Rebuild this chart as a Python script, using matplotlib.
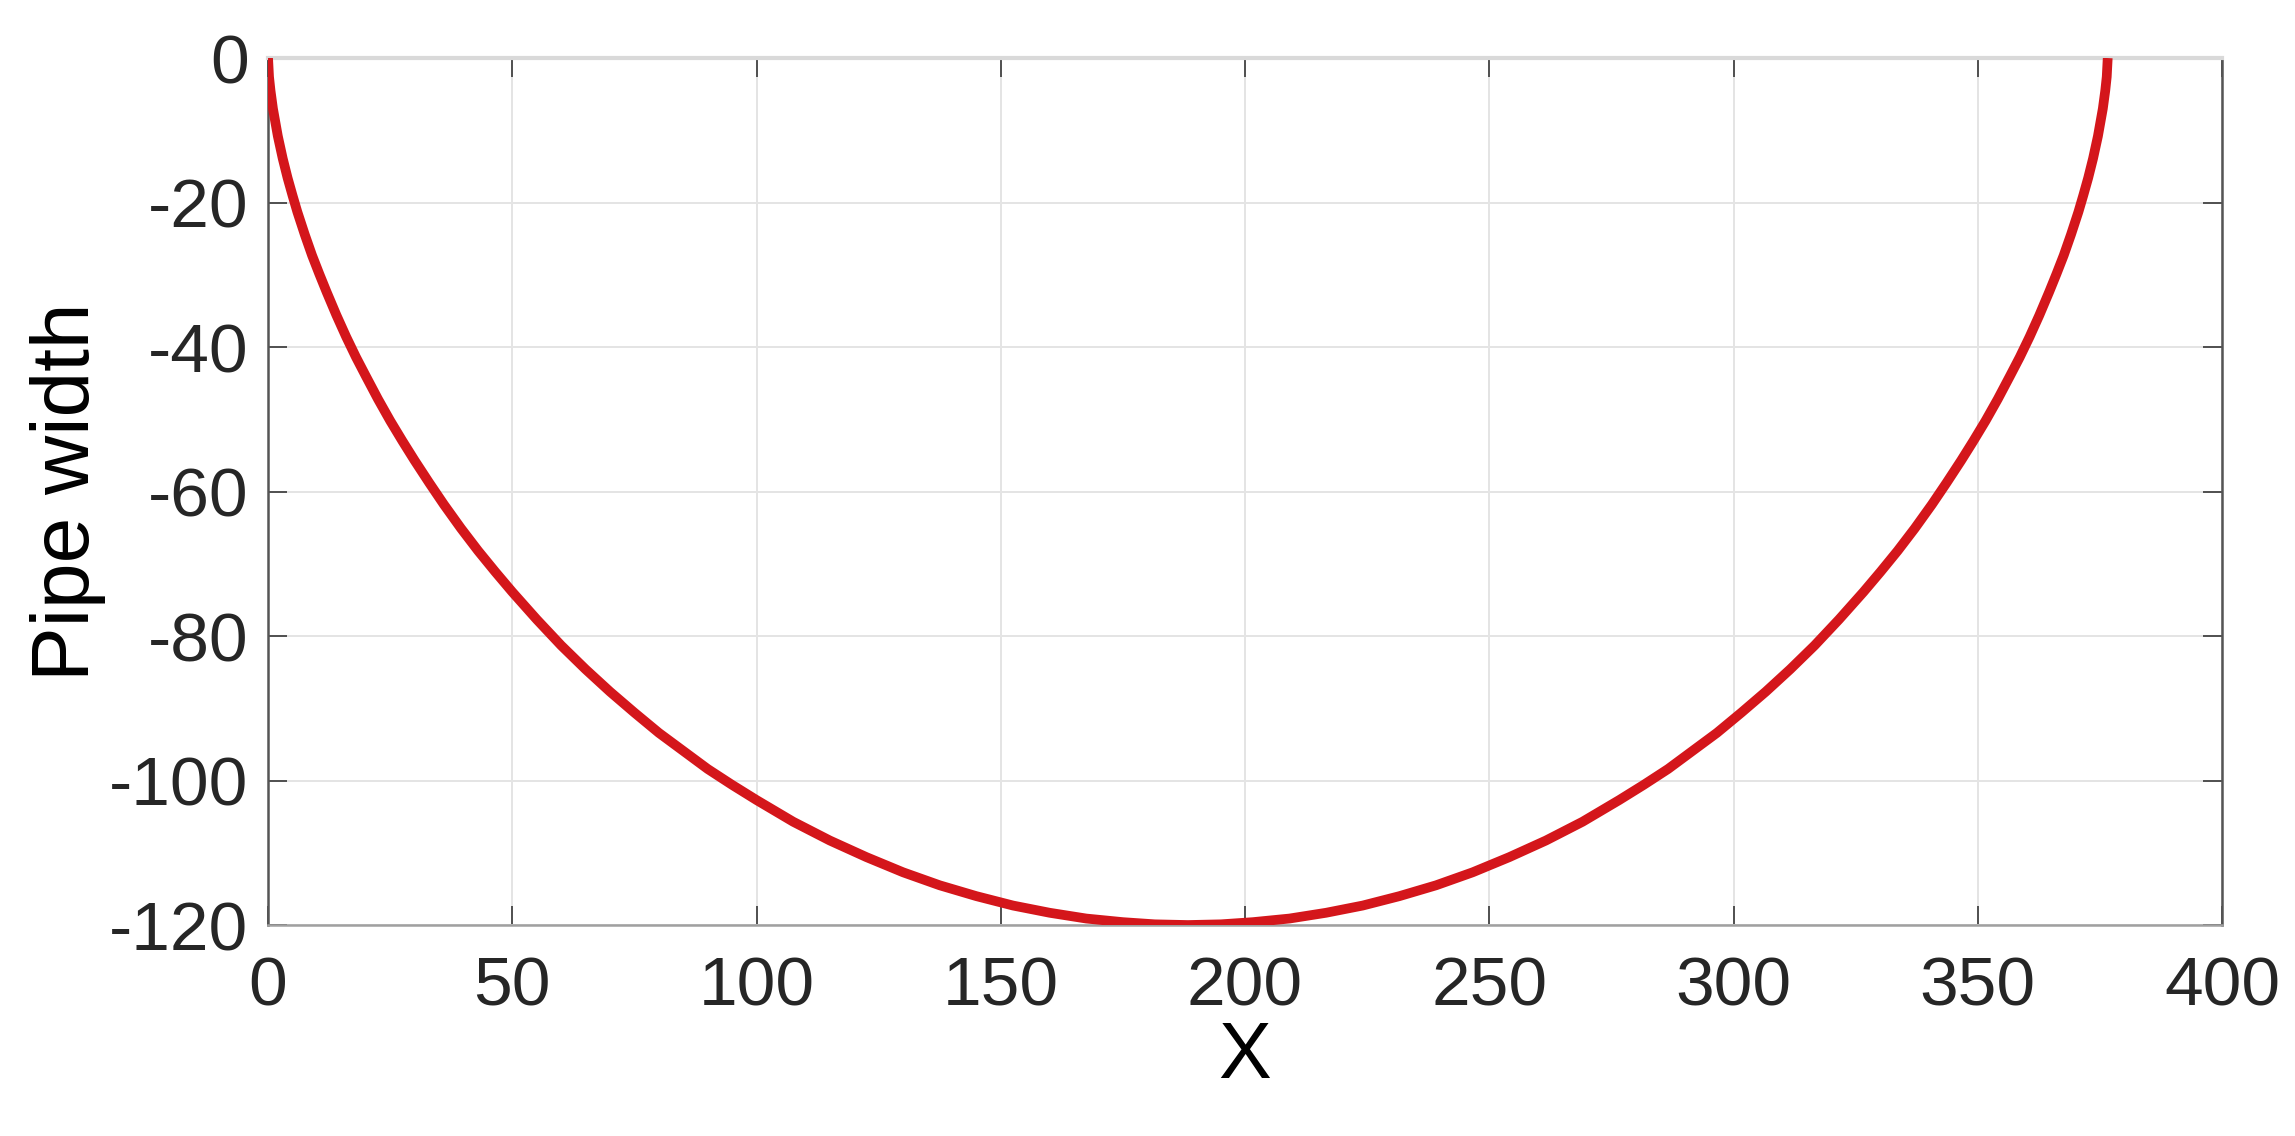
import matplotlib
matplotlib.use("Agg")
import matplotlib.pyplot as plt

plt.rcParams["font.family"] = ["Liberation Sans", "DejaVu Sans"]
plt.rcParams["axes.unicode_minus"] = False

# points
x_vals = [0, 0.2, 0.5, 1, 2, 3, 4, 5, 6, 7.5, 9, 10.5, 12, 14, 16, 18, 20,
          22.5, 25, 27.5, 30, 33, 36, 39.5, 43, 46.5, 50, 55, 60, 65, 70,
          75, 80, 85, 90, 95, 100, 107.5, 115, 122.5, 130, 137.5, 145,
          152.5, 160, 167.5, 175, 181.5, 188.3,
          195.1, 201.6, 209.1, 216.6, 224.1, 231.6, 239.1, 246.6, 254.1,
          261.6, 269.1, 276.6, 281.6, 286.6, 291.6, 296.6, 301.6, 306.6,
          311.6, 316.6, 321.6, 326.6, 330.1, 333.6, 337.1, 340.6, 343.6,
          346.6, 349.1, 351.6, 354.1, 356.6, 358.6, 360.6, 362.6, 364.6,
          366.1, 367.6, 369.1, 370.6, 371.6, 372.6, 373.6, 374.6, 375.6,
          376.1, 376.4, 376.6]
y_vals = [0, -2.6, -4.5, -7.0, -10.8, -13.9, -16.6, -19.0, -21.3, -24.4,
          -27.3, -29.9, -32.4, -35.6, -38.6, -41.4, -44.0, -47.2, -50.2,
          -53.0, -55.7, -58.8, -61.8, -65.1, -68.2, -71.1, -73.9, -77.7,
          -81.3, -84.6, -87.7, -90.6, -93.4, -95.9, -98.4, -100.6, -102.7,
          -105.7, -108.3, -110.6, -112.7, -114.5, -116.0, -117.3, -118.3,
          -119.1, -119.6, -119.9, -120.0,
          -119.9, -119.6, -119.1, -118.3, -117.3, -116.0, -114.5, -112.7,
          -110.6, -108.3, -105.7, -102.7, -100.6, -98.4, -95.9, -93.4,
          -90.6, -87.7, -84.6, -81.3, -77.7, -73.9, -71.1, -68.2, -65.1,
          -61.8, -58.8, -55.7, -53.0, -50.2, -47.2, -44.0, -41.4, -38.6,
          -35.6, -32.4, -29.9, -27.3, -24.4, -21.3, -19.0, -16.6, -13.9,
          -10.8, -7.0, -4.5, -2.6, 0]

x_ticks = [0, 50, 100, 150, 200, 250, 300, 350, 400]
y_ticks = [0, -20, -40, -60, -80, -100, -120]

fig = plt.figure(figsize=(22.95, 11.36), dpi=100)
ax = fig.add_axes([0.1168, 0.1857, 0.8514, 0.7632])

ax.plot(x_vals, y_vals, color="#d4161b", lw=7, solid_capstyle="butt",
        solid_joinstyle="round", zorder=3)

ax.set_xlim(0, 400)
ax.set_ylim(-120, 0)
ax.set_xticks(x_ticks)
ax.set_yticks(y_ticks)
ax.grid(True, color="#e4e4e4", lw=1.4)
ax.set_axisbelow(True)

ax.tick_params(direction="in", length=14, width=1.3, colors="#444444",
               labelcolor="#262626", labelsize=50, top=True, right=True)
ax.tick_params(axis="x", pad=22)
ax.tick_params(axis="y", pad=14)

ax.spines["left"].set_color("#555555")
ax.spines["right"].set_color("#555555")
ax.spines["bottom"].set_color("#a0a0a0")
ax.spines["top"].set_color("#d9d9d9")
for side in ax.spines:
    ax.spines[side].set_linewidth(1.8)
ax.spines["top"].set_linewidth(3)

ax.set_xlabel("X", fontsize=57, color="black", labelpad=0)
ax.set_ylabel("Pipe width", fontsize=59, color="black", labelpad=2)

fig.savefig("out.png", dpi=100, facecolor="white")
